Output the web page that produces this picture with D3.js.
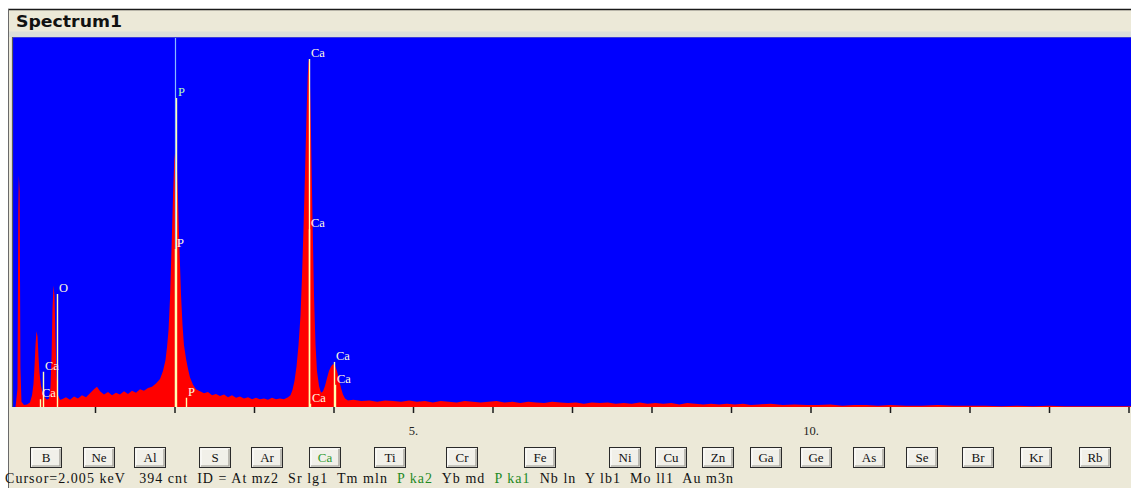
<!DOCTYPE html>
<html>
<head>
<meta charset="utf-8">
<script src="https://cdn.jsdelivr.net/npm/d3@7"></script>
<style>
  html, body { margin: 0; padding: 0; background: #ffffff; overflow: hidden; }
  svg { display: block; }
</style>
</head>
<body>
<svg id="chart" width="1131" height="488"></svg>
<script>
// ---- Spectrum data (energy in keV, counts per channel) ----
const energyKeV = [
  0.000, 0.006, 0.025, 0.035, 0.042, 0.052, 0.062, 0.075, 0.107, 0.145,
  0.182, 0.208, 0.226, 0.239, 0.252, 0.264, 0.277, 0.289, 0.302, 0.321,
  0.346, 0.371, 0.396, 0.421, 0.440, 0.453, 0.465, 0.478, 0.491, 0.503,
  0.516, 0.535, 0.560, 0.585, 0.635, 0.686, 0.736, 0.786, 0.836, 0.887,
  0.937, 0.987, 1.025, 1.063, 1.113, 1.164, 1.214, 1.264, 1.314, 1.365,
  1.415, 1.465, 1.516, 1.566, 1.616, 1.667, 1.717, 1.767, 1.818, 1.855,
  1.887, 1.906, 1.925, 1.943, 1.962, 1.981, 1.997, 2.013, 2.028, 2.044,
  2.063, 2.082, 2.101, 2.119, 2.145, 2.170, 2.195, 2.233, 2.270, 2.321,
  2.371, 2.421, 2.472, 2.522, 2.572, 2.623, 2.673, 2.723, 2.774, 2.824,
  2.874, 2.925, 2.975, 3.025, 3.075, 3.126, 3.176, 3.226, 3.277, 3.327,
  3.377, 3.428, 3.459, 3.484, 3.509, 3.535, 3.560, 3.585, 3.604, 3.623,
  3.642, 3.660, 3.675, 3.688, 3.701, 3.717, 3.736, 3.755, 3.774, 3.792,
  3.818, 3.843, 3.868, 3.893, 3.918, 3.943, 3.969, 3.994, 4.019, 4.044,
  4.069, 4.094, 4.119, 4.145, 4.182, 4.25, 4.35, 4.45, 4.55, 4.65,
  4.75, 4.85, 4.95, 5.05, 5.15, 5.25, 5.35, 5.45, 5.55, 5.65,
  5.75, 5.85, 5.95, 6.05, 6.15, 6.25, 6.35, 6.45, 6.55, 6.65,
  6.75, 6.85, 6.95, 7.05, 7.15, 7.25, 7.35, 7.45, 7.55, 7.65,
  7.75, 7.85, 7.95, 8.05, 8.15, 8.25, 8.35, 8.45, 8.55, 8.65,
  8.75, 8.85, 8.95, 9.05, 9.15, 9.25, 9.35, 9.50, 9.65, 9.80,
  9.95, 10.10, 10.25, 10.40, 10.55, 10.70, 10.85, 11.00, 11.20, 11.40,
  11.60, 11.80, 12.00, 12.20, 12.40, 12.60, 12.80, 13.00, 13.20, 13.40,
  13.60, 13.80, 14.05
];
const counts = [
  0, 6, 28, 300, 355, 330, 60, 8, 3, 4,
  7, 18, 35, 62, 96, 116, 108, 78, 52, 32,
  20, 14, 11, 13, 30, 75, 150, 186, 170, 105,
  48, 18, 11, 12, 15, 11, 16, 13, 18, 15,
  21, 27, 31, 24, 19, 23, 18, 22, 19, 24,
  20, 25, 22, 27, 25, 29, 31, 36, 43, 55,
  72, 92, 118, 165, 240, 322, 378, 396, 378, 320,
  240, 172, 125, 95, 74, 58, 45, 34, 27, 24,
  21, 23, 18, 20, 17, 19, 15, 18, 14, 16,
  13, 15, 12, 14, 12, 13, 11, 14, 12, 13,
  12, 15, 18, 26, 40, 62, 95, 140, 200, 275,
  360, 445, 505, 533, 512, 420, 290, 170, 95, 55,
  32, 22, 24, 32, 44, 55, 62, 66, 63, 55,
  42, 29, 19, 13, 10, 11, 9, 10, 8, 10,
  9, 8, 10, 8, 9, 7, 9, 8, 7, 9,
  8, 7, 8, 9, 7, 8, 6, 8, 7, 6,
  8, 7, 6, 7, 5, 7, 6, 7, 5, 6,
  5, 7, 5, 6, 5, 6, 4, 6, 5, 4,
  5, 4, 5, 4, 5, 3, 4, 5, 3, 4,
  3, 3, 4, 2, 3, 3, 2, 3, 2, 2,
  3, 2, 2, 2, 1, 2, 1, 2, 1, 1,
  1, 1, 1
];

// ---- Element line markers (line, energy keV, marker height in counts) ----
const markerLines = ["O Ka", "Ca La", "Ca Ll", "P Ka1", "P Ka2", "P Kb1",
                     "Ca Ka1", "Ca Ka2", "Ca Ka3", "Ca Kb1", "Ca Kb3"];
const markerKeV   = [0.525, 0.341, 0.303, 2.013, 2.012, 2.139,
                     3.691, 3.688, 3.700, 4.012, 4.013];
const markerTops  = [173, 54, 12, 473, 242, 14,
                     533, 272, 5, 69, 34];

// ---- Cursor ----
const cursorKeV = 2.005;
const cursorCounts = 394;
const cursorIds = ["At mz2", "Sr lg1", "Tm mln", "P ka2", "Yb md", "P ka1",
                   "Nb ln", "Y lb1", "Mo ll1", "Au m3n"];

// ---- Axis ticks ----
const tickValues = [1, 2, 3, 4, 5, 6, 7, 8, 9, 10, 11, 12, 13, 14];
const labelledTicks = [5, 10];

// ---- Periodic-table buttons (element, K-alpha energy keV) ----
const buttonElements = ["B", "Ne", "Al", "S", "Ar", "Ca", "Ti", "Cr", "Fe", "Ni",
                        "Cu", "Zn", "Ga", "Ge", "As", "Se", "Br", "Kr", "Rb"];
const buttonKeV = [0.183, 0.849, 1.486, 2.307, 2.957, 3.690, 4.508, 5.411, 6.398, 7.471,
                   8.040, 8.630, 9.241, 9.874, 10.530, 11.207, 11.907, 12.631, 13.373];
const selectedElement = "Ca";

// ---------------------------------------------------------------
const W = 1131, H = 488;
const plot = { left: 13, top: 37, right: 1131, bottom: 407 };
const svg = d3.select("#chart");

const x = d3.scaleLinear().domain([0, 14]).range([15.5, 1128.5]);
const y = d3.scaleLinear().domain([0, 565]).range([plot.bottom, 38]);

const serif = "'Liberation Serif', 'Times New Roman', serif";

// window panel
svg.append("rect").attr("x", 0).attr("y", 0).attr("width", W).attr("height", H).attr("fill", "#ffffff");
svg.append("rect").attr("x", 8).attr("y", 9).attr("width", W - 8).attr("height", H - 9).attr("fill", "#ece9d8");
svg.append("line").attr("x1", 8).attr("x2", W).attr("y1", 9.5).attr("y2", 9.5).attr("stroke", "#1a1a1a").attr("stroke-width", 1.5);
svg.append("line").attr("x1", 8.5).attr("x2", 8.5).attr("y1", 9).attr("y2", H).attr("stroke", "#6a6a6a").attr("stroke-width", 1);
svg.append("rect").attr("x", 9).attr("y", 31.5).attr("width", W - 9).attr("height", 5.5).attr("fill", "#dcdfda");

// title
svg.append("text")
  .attr("x", 16).attr("y", 27)
  .attr("font-family", "'DejaVu Sans', Verdana, sans-serif")
  .attr("font-weight", "bold").attr("font-size", 16)
  .attr("textLength", 106).attr("lengthAdjust", "spacingAndGlyphs")
  .attr("fill", "#111").text("Spectrum1");

// plot background
svg.append("rect")
  .attr("x", plot.left).attr("y", plot.top)
  .attr("width", plot.right - plot.left).attr("height", plot.bottom - plot.top)
  .attr("fill", "#0000fe");
svg.append("line").attr("x1", plot.left).attr("x2", W).attr("y1", 37.5).attr("y2", 37.5)
  .attr("stroke", "#3c3cd8").attr("stroke-width", 1);
svg.append("line").attr("x1", 12.5).attr("x2", 12.5).attr("y1", plot.top).attr("y2", plot.bottom)
  .attr("stroke", "#5a5a5a").attr("stroke-width", 1.2);

svg.append("clipPath").attr("id", "plotClip")
  .append("rect").attr("x", 13.5).attr("y", 38)
  .attr("width", plot.right - 13.5).attr("height", plot.bottom - 38);

const g = svg.append("g").attr("clip-path", "url(#plotClip)");

// spectrum
const spectrum = energyKeV.map((e, i) => ({ e, c: counts[i] }));
const area = d3.area()
  .x(d => x(d.e))
  .y0(y(0))
  .y1(d => y(d.c))
  .curve(d3.curveLinear);
g.append("path").datum(spectrum).attr("d", area).attr("fill", "#ff0000");

// cursor line
g.append("line")
  .attr("x1", Math.round(x(cursorKeV)) + 0.5).attr("x2", Math.round(x(cursorKeV)) + 0.5)
  .attr("y1", 38).attr("y2", plot.bottom)
  .attr("stroke", "#8ab8ff").attr("stroke-width", 1.2);

// element markers
const markers = markerLines.map((line, i) => ({
  line, el: line.split(" ")[0], e: markerKeV[i], c: markerTops[i]
}));
const cursorElement = cursorIds.find(s => / ka1$/.test(s)).split(" ")[0];
const markerG = g.append("g");
markerG.selectAll("line").data(markers).join("line")
  .attr("x1", d => Math.round(x(d.e)) + 0.5)
  .attr("x2", d => Math.round(x(d.e)) + 0.5)
  .attr("y1", d => y(d.c)).attr("y2", plot.bottom)
  .attr("stroke", "#ffffb0").attr("stroke-width", 1.4);
markerG.selectAll("text").data(markers).join("text")
  .attr("x", d => Math.round(x(d.e)) + 2)
  .attr("y", d => y(d.c) - 2)
  .attr("font-family", serif).attr("font-size", 12.5)
  .attr("fill", d => (d.el === cursorElement && /Ka1$/.test(d.line)) ? "#b4ffb4" : "#fffbe0")
  .text(d => d.el);

// axis
const axis = d3.axisBottom(x)
  .tickValues(tickValues)
  .tickSize(6)
  .tickPadding(13)
  .tickFormat(d => labelledTicks.includes(d) ? d + "." : "");
const axG = svg.append("g").attr("transform", `translate(0,${plot.bottom})`).call(axis);
axG.select(".domain").remove();
axG.selectAll(".tick line").attr("stroke", "#1a1a1a").attr("stroke-width", 1.5);
axG.selectAll(".tick text").attr("font-family", serif).attr("font-size", 12.5).attr("fill", "#222");

// element buttons
const btnW = 31, btnH = 20, btnY = 447;
const btn = svg.append("g").selectAll("g")
  .data(buttonElements.map((el, i) => ({ el, e: buttonKeV[i] })))
  .join("g")
  .attr("transform", d => `translate(${Math.round(x(d.e)) + 0.5},${btnY + 0.5})`);
btn.append("rect").attr("width", btnW).attr("height", btnH)
  .attr("fill", "#f1f0e9").attr("stroke", "#2a2a2a").attr("stroke-width", 1);
btn.append("path").attr("d", `M1.5,${btnH - 1.5}V1.5H${btnW - 1.5}`)
  .attr("fill", "none").attr("stroke", "#ffffff").attr("stroke-width", 1);
btn.append("path").attr("d", `M1.5,${btnH - 1.5}H${btnW - 1.5}V1.5`)
  .attr("fill", "none").attr("stroke", "#9a9890").attr("stroke-width", 1.2);
btn.append("text")
  .attr("x", btnW / 2).attr("y", 14.5)
  .attr("text-anchor", "middle")
  .attr("font-family", serif).attr("font-size", 13)
  .attr("fill", d => d.el === selectedElement ? "#2f9a2f" : "#111")
  .text(d => d.el);

// status line
const status = svg.append("text")
  .attr("x", 5).attr("y", 483)
  .attr("font-family", serif).attr("font-size", 14)
  .attr("fill", "#111")
  .attr("xml:space", "preserve")
  .style("white-space", "pre")
  .attr("textLength", 728).attr("lengthAdjust", "spacing");
status.append("tspan").text(`Cursor=${cursorKeV.toFixed(3)} keV   ${cursorCounts} cnt  ID = `);
cursorIds.forEach((id, i) => {
  status.append("tspan")
    .attr("fill", id.startsWith(cursorElement + " ") ? "#1f8a1f" : "#111")
    .text(id);
  if (i < cursorIds.length - 1) status.append("tspan").text("  ");
});
</script>
</body>
</html>
